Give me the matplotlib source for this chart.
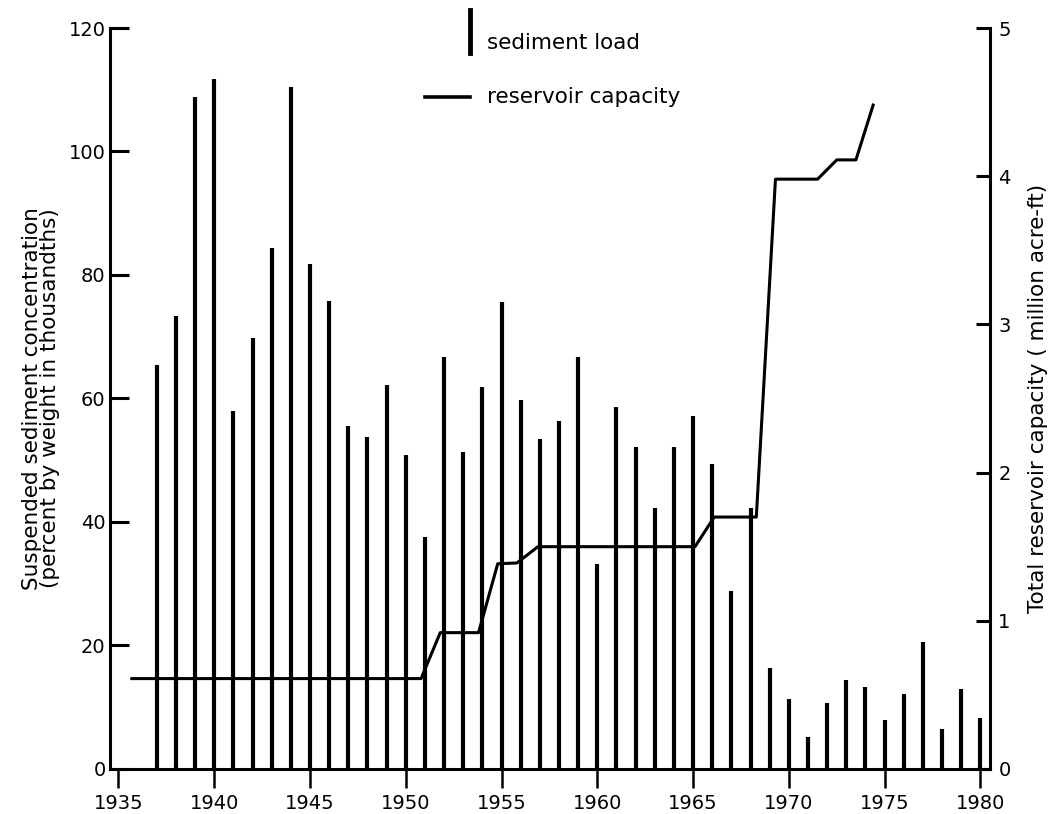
import numpy as np
import matplotlib
matplotlib.use('Agg')
import matplotlib.pyplot as plt
from matplotlib.lines import Line2D

# vuosittainen sedimenttipitoisuus (tuhannesosaprosentteina)
years = np.arange(1937, 1981)
sediment = [65.5, 73.3, 108.8, 111.7, 58.0, 69.8, 84.3, 110.4, 81.7, 75.8,
            55.6, 53.8, 62.2, 50.9, 37.6, 66.7, 51.4, 61.9, 75.7, 59.7,
            53.5, 56.4, 66.7, 33.2, 58.7, 52.1, 42.2, 52.1, 57.2, 49.4,
            28.9, 42.3, 16.3, 11.3, 5.2, 10.7, 14.4, 13.3, 8.0, 12.2,
            20.6, 6.5, 13.0, 8.3]

# altaiden kokonaiskapasiteetti (milj. acre-ft)
cap_years = [1935.7, 1950.8, 1951.8, 1953.8, 1954.8, 1955.8, 1956.9, 1965.1,
             1966.1, 1968.3, 1969.3, 1971.5, 1972.5, 1973.5, 1974.4]
capacity = [0.61, 0.61, 0.92, 0.92, 1.385, 1.39, 1.50, 1.50,
            1.70, 1.70, 3.98, 3.98, 4.11, 4.11, 4.48]

left_ticks = [0, 20, 40, 60, 80, 100, 120]
right_ticks = [0, 1, 2, 3, 4, 5]
x_ticks = [1935, 1940, 1945, 1950, 1955, 1960, 1965, 1970, 1975, 1980]

plt.rcParams['font.family'] = ['DejaVu Sans']

fig = plt.figure(figsize=(10.56, 8.14), dpi=100)
ax = fig.add_axes([0.104, 0.0553, 0.8335, 0.9103])

ax.vlines(years, 0, sediment, color='black', linewidth=3.0)
ax.set_xlim(1934.55, 1980.5)
ax.set_ylim(0, 120)
ax.set_yticks(left_ticks)
ax.set_xticks(x_ticks)

ax2 = ax.twinx()
ax2.plot(cap_years, capacity, color='black', linewidth=2.2)
ax2.set_ylim(0, 5)
ax2.set_yticks(right_ticks)

for a in (ax, ax2):
    a.spines['top'].set_visible(False)
    for s in a.spines.values():
        s.set_linewidth(2.2)
ax.spines['right'].set_visible(False)
ax2.spines['left'].set_visible(False)
ax2.spines['bottom'].set_visible(False)

ax.tick_params(axis='y', direction='in', length=14, width=2.2, labelsize=14, pad=3)
ax.tick_params(axis='x', direction='out', length=14, width=1.8, labelsize=14, pad=4)
ax2.tick_params(axis='y', direction='in', length=10, width=2.2, labelsize=14, pad=6)

ax.set_ylabel('Suspended sediment concentration\n(percent by weight in thousandths)',
              fontsize=15.5, linespacing=0.9, labelpad=6)
ax2.set_ylabel('Total reservoir capacity ( million acre-ft)', fontsize=15.5,
               rotation=90, labelpad=12)

# selite käsin
fig.add_artist(Line2D([470/1056, 470/1056], [1 - 10/814, 1 - 53/814],
                      color='black', linewidth=3.5))
fig.add_artist(Line2D([425/1056, 470/1056], [1 - 97/814, 1 - 97/814],
                      color='black', linewidth=2.6))
fig.text(487/1056, 1 - 43/814, 'sediment load', fontsize=15.5, va='center')
fig.text(487/1056, 1 - 97/814, 'reservoir capacity', fontsize=15.5, va='center')

fig.savefig('out.png', dpi=100)
